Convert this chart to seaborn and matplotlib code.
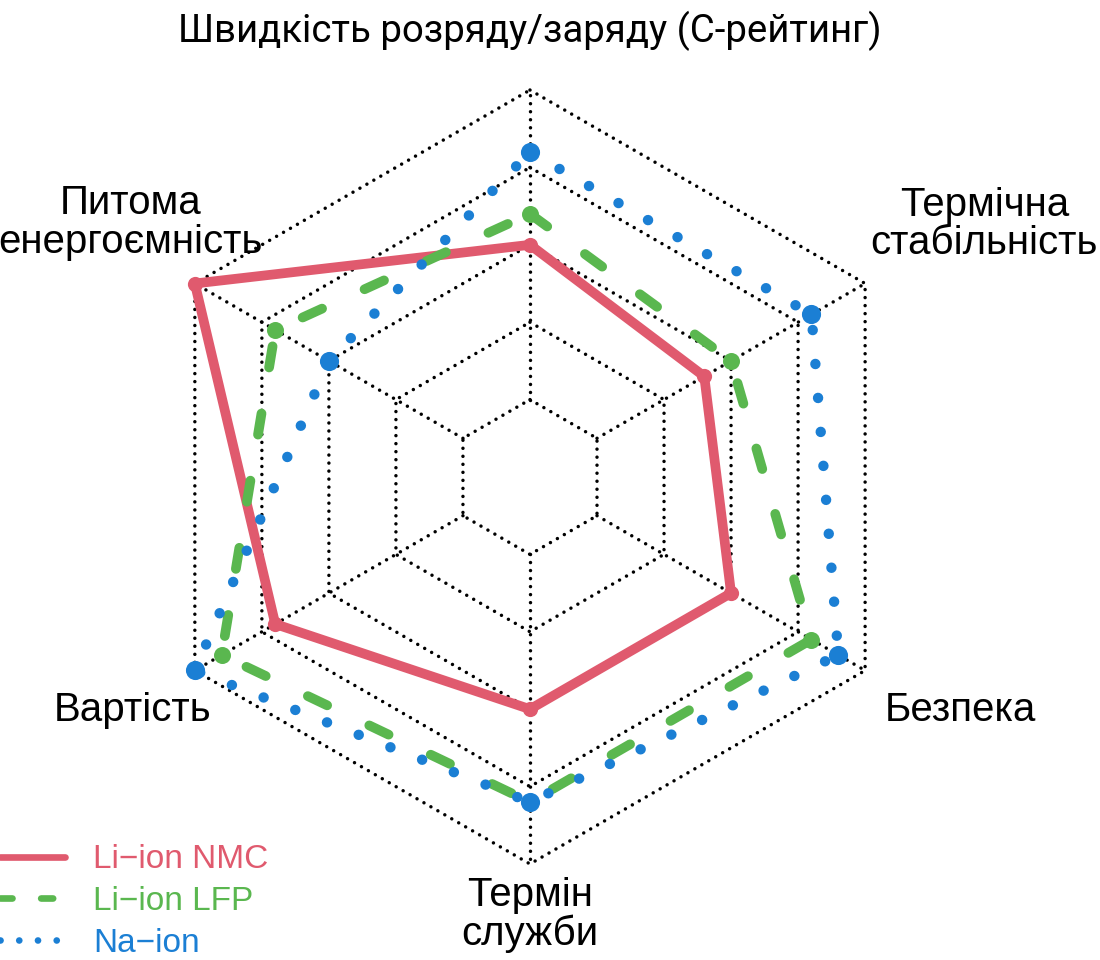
import numpy as np
import pandas as pd
import seaborn as sns
import matplotlib.pyplot as plt

# Radar chart data (axes go clockwise from the top)
categories = ["Швидкість розряду/заряду (С-рейтинг)", "Термічна\nстабільність", "Безпека",
              "Термін\nслужби", "Вартість", "Питома\nенергоємність"]
series_names = ["Li−ion NMC", "Li−ion LFP", "Na−ion"]
nmc_values = [3.0, 2.6, 3.0, 3.0, 3.8, 5.0]
lfp_values = [3.4, 3.0, 4.2, 4.2, 4.6, 3.8]
na_values = [4.2, 4.2, 4.6, 4.2, 5.0, 3.0]
grid_levels = [1, 2, 3, 4, 5]

sns.set_style("white")
plt.rcParams['font.family'] = ['Liberation Sans', 'DejaVu Sans']

n = len(categories)
angles = np.arange(n) * 2 * np.pi / n
closed = np.append(angles, 2 * np.pi)

fig = plt.figure(figsize=(11, 9.6), dpi=100)
ax = fig.add_axes([0.13, 0.1, 0.7036, 0.80625], projection='polar')
ax.set_theta_offset(np.pi / 2)
ax.set_theta_direction(-1)
ax.set_ylim(0, 5)
ax.set_xticks([])
ax.set_yticks([])
ax.grid(False)
ax.spines['polar'].set_visible(False)

# hexagonal dotted grid, spokes start at the first ring
grid_style = dict(color='black', lw=2.5, linestyle=(0, (0.01, 2.3)),
                  dash_capstyle='round', clip_on=False, zorder=1)
for lvl in grid_levels:
    ax.plot(closed, [lvl] * len(closed), **grid_style)
for a in angles:
    ax.plot([a, a], [grid_levels[0], grid_levels[-1]], **grid_style)

df = pd.DataFrame({
    'theta': np.tile(closed, 3),
    'value': np.concatenate([np.append(v, v[0]) for v in (nmc_values, lfp_values, na_values)]),
    'series': np.repeat(series_names, len(closed)),
})

styles = {
    "Li−ion NMC": dict(color='#E05A6E', lw=7, linestyle='-', s=120),
    "Li−ion LFP": dict(color='#5AB74F', lw=7, linestyle=(0, (2.2, 4.8)), s=150),
    "Na−ion": dict(color='#1B7FD4', lw=7.5, linestyle=(0, (0.01, 3.26)), s=190),
}

for name in series_names:
    st = styles[name]
    sub = df[df['series'] == name]
    sns.lineplot(data=sub, x='theta', y='value', sort=False, estimator=None, ax=ax,
                 color=st['color'], lw=st['lw'], linestyle=st['linestyle'],
                 dash_capstyle='round', solid_capstyle='round', solid_joinstyle='round',
                 clip_on=False, label=name, zorder=3)
    pts = sub.iloc[:-1]
    sns.scatterplot(data=pts, x='theta', y='value', ax=ax, color=st['color'], s=st['s'],
                    linewidth=0, clip_on=False, zorder=4, legend=False)

ax.set_xlabel('')
ax.set_ylabel('')

# category labels: (angle in degrees clockwise from top, radius)
label_pos = [(0, 5.77), (60.9, 6.72), (118.4, 6.32), (180, 5.65), (239.6, 5.95), (302.5, 6.12)]
for text, (deg, r) in zip(categories, label_pos):
    if deg == 0:
        ax.text(np.deg2rad(deg), r, text, ha='center', va='center', fontsize=27.6,
                family=['Roboto', 'DejaVu Sans'], color='black')
    else:
        ax.text(np.deg2rad(deg), r, text, ha='center', va='center', fontsize=29,
                family=['Liberation Sans', 'DejaVu Sans'], linespacing=1.02, color='black')

leg = ax.legend(loc='center left', bbox_to_anchor=(0.0, 0.061), bbox_transform=fig.transFigure,
                frameon=False, fontsize=24, handlelength=1.95, handletextpad=0.85,
                labelspacing=0.32, borderpad=0, borderaxespad=0, labelcolor='linecolor')
legend_dashes = ['-', (0, (1.8, 4.3)), (0, (0.01, 2.8))]
for h, ls in zip(leg.get_lines(), legend_dashes):
    h.set_linewidth(4.8)
    h.set_linestyle(ls)
    h.set_dash_capstyle('round')
    h.set_solid_capstyle('round')

fig.savefig('out.png', dpi=100)
